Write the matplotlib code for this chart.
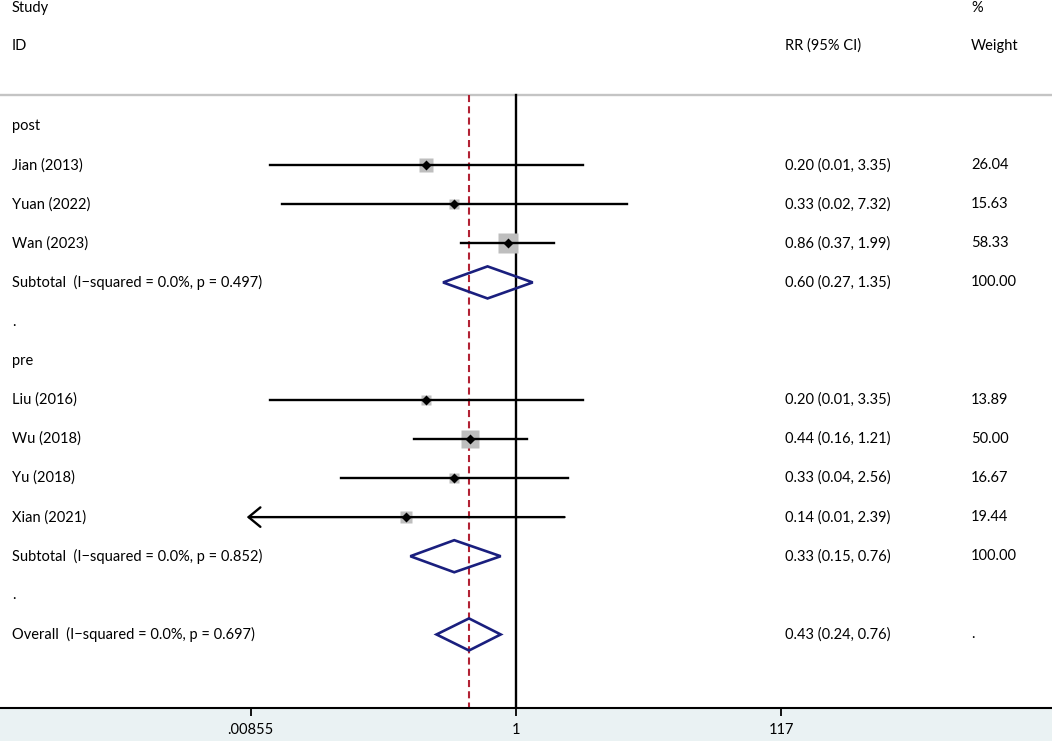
import numpy as np
import matplotlib
matplotlib.use("Agg")
import matplotlib.pyplot as plt
from matplotlib.patches import Polygon

plt.rcParams['font.family'] = ['Lato', 'DejaVu Sans']

# ---- data ----
post_names = ["Jian (2013)", "Yuan (2022)", "Wan (2023)"]
post_rr = [0.20, 0.33, 0.86]
post_lo = [0.012, 0.015, 0.37]
post_hi = [3.35, 7.32, 1.99]
post_wt = [26.04, 15.63, 58.33]
post_txt = ["0.20 (0.01, 3.35)", "0.33 (0.02, 7.32)", "0.86 (0.37, 1.99)"]
post_wt_txt = ["26.04", "15.63", "58.33"]
post_sub = (0.60, 0.27, 1.35)
post_sub_label = "Subtotal  (I\u2212squared = 0.0%, p = 0.497)"
post_sub_txt = "0.60 (0.27, 1.35)"

pre_names = ["Liu (2016)", "Wu (2018)", "Yu (2018)", "Xian (2021)"]
pre_rr = [0.20, 0.44, 0.33, 0.14]
pre_lo = [0.012, 0.16, 0.043, 0.0082]
pre_hi = [3.35, 1.21, 2.56, 2.39]
pre_wt = [13.89, 50.00, 16.67, 19.44]
pre_txt = ["0.20 (0.01, 3.35)", "0.44 (0.16, 1.21)", "0.33 (0.04, 2.56)",
           "0.14 (0.01, 2.39)"]
pre_wt_txt = ["13.89", "50.00", "16.67", "19.44"]
pre_sub = (0.33, 0.15, 0.76)
pre_sub_label = "Subtotal  (I\u2212squared = 0.0%, p = 0.852)"
pre_sub_txt = "0.33 (0.15, 0.76)"

overall = (0.43, 0.24, 0.76)
overall_label = "Overall  (I\u2212squared = 0.0%, p = 0.697)"
overall_txt = "0.43 (0.24, 0.76)"

xticks = [0.00855, 1, 117]
xtick_labels = [".00855", "1", "117"]

# ---- layout ----
W, H = 1052, 741
fig = plt.figure(figsize=(W / 100, H / 100), dpi=100)
fig.patch.set_facecolor("#EAF2F3")
ax = fig.add_axes([0, 33 / H, 1, 708 / H])
ax.set_facecolor("white")

px_per_ln = 55.7
x0 = 516
ax.set_xscale("log")
ax.set_xlim(np.exp(-x0 / px_per_ln), np.exp((W - x0) / px_per_ln))
ax.set_ylim(14.88, -3.22)

for s in ["top", "left", "right"]:
    ax.spines[s].set_visible(False)
ax.spines["bottom"].set_linewidth(1.5)
ax.set_yticks([])
ax.set_xticks(xticks)
ax.set_xticklabels(xtick_labels)
ax.minorticks_off()
ax.tick_params(axis="x", direction="out", length=6, width=1.3, labelsize=10.5, pad=5)

fs = 10.5
tx = ax.get_yaxis_transform()  # x in axes fraction, y in data
col_id = 12 / W
col_ci = 785 / W
col_wt = 971 / W

# header
ax.text(col_id, -3.02, "Study", transform=tx, fontsize=fs, va="center")
ax.text(col_id, -2.05, "ID", transform=tx, fontsize=fs, va="center")
ax.text(col_ci, -2.05, "RR (95% CI)", transform=tx, fontsize=fs, va="center")
ax.text(col_wt, -3.02, "%", transform=tx, fontsize=fs, va="center")
ax.text(col_wt, -2.05, "Weight", transform=tx, fontsize=fs, va="center")
sep_y = -0.79
ax.axhline(sep_y, color="#C4C4C4", lw=1.7)

navy = "#1A1F7E"
clip_lo = xticks[0]


def study_row(y, name, rr, lo, hi, wt, txt, wtxt):
    ax.text(col_id, y, name, transform=tx, fontsize=fs, va="center")
    ax.text(col_ci, y, txt, transform=tx, fontsize=fs, va="center")
    ax.text(col_wt, y, wtxt, transform=tx, fontsize=fs, va="center")
    side = 2.65 * np.sqrt(wt) * 0.72
    ax.plot(rr, y, marker="s", ms=side, color="#BEBEBE", mec="none", zorder=3)
    if lo < clip_lo:
        ax.annotate("", xy=(clip_lo * 0.93, y), xytext=(hi, y),
                    arrowprops=dict(arrowstyle="->,head_length=0.85,head_width=0.7",
                                    lw=1.7, color="black", shrinkA=0, shrinkB=0),
                    zorder=4)
    else:
        ax.plot([lo, hi], [y, y], color="black", lw=1.7, zorder=4)
    ax.plot(rr, y, marker="D", ms=5, color="black", mec="none", zorder=5)


def diamond_row(y, label, est, txt, wtxt):
    rr, lo, hi = est
    ax.text(col_id, y, label, transform=tx, fontsize=fs, va="center")
    ax.text(col_ci, y, txt, transform=tx, fontsize=fs, va="center")
    ax.text(col_wt, y, wtxt, transform=tx, fontsize=fs, va="center")
    h = 0.41
    poly = Polygon([(lo, y), (rr, y - h), (hi, y), (rr, y + h)], closed=True,
                   fill=False, edgecolor=navy, lw=1.9, zorder=5)
    ax.add_patch(poly)


row = 0
ax.text(col_id, row, "post", transform=tx, fontsize=fs, va="center")
row += 1
for i in range(len(post_names)):
    study_row(row, post_names[i], post_rr[i], post_lo[i], post_hi[i], post_wt[i],
              post_txt[i], post_wt_txt[i])
    row += 1
diamond_row(row, post_sub_label, post_sub, post_sub_txt, "100.00")
row += 1
ax.text(col_id, row, ".", transform=tx, fontsize=fs, va="center")
row += 1
ax.text(col_id, row, "pre", transform=tx, fontsize=fs, va="center")
row += 1
for i in range(len(pre_names)):
    study_row(row, pre_names[i], pre_rr[i], pre_lo[i], pre_hi[i], pre_wt[i],
              pre_txt[i], pre_wt_txt[i])
    row += 1
diamond_row(row, pre_sub_label, pre_sub, pre_sub_txt, "100.00")
row += 1
ax.text(col_id, row, ".", transform=tx, fontsize=fs, va="center")
row += 1
diamond_row(row, overall_label, overall, overall_txt, ".")

# reference lines
ax.plot([1, 1], [sep_y, 14.88], color="black", lw=1.7, zorder=2)
ax.plot([overall[0], overall[0]], [sep_y, 14.88], color="#B22234", lw=1.5,
        linestyle=(0, (3.4, 2.0)), zorder=2)

fig.savefig("out.png", dpi=100, facecolor=fig.get_facecolor())
